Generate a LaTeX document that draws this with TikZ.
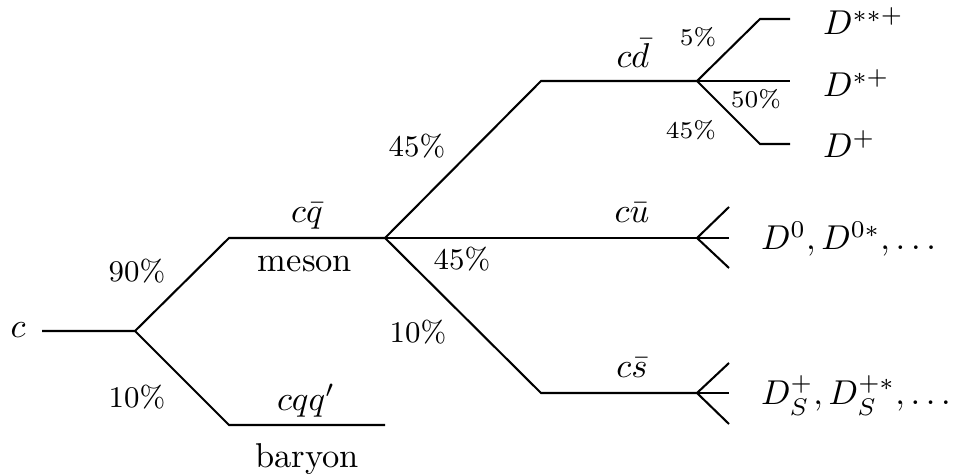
\documentclass[tikz,border=0pt]{standalone}
\begin{document}
\begin{tikzpicture}[x=0.29pt,y=-0.29pt,line width=0.6pt,
  lbl/.style={inner sep=0pt,anchor=base,font=\fontsize{10}{12}\selectfont},
  lblw/.style={inner sep=0pt,anchor=base west,font=\fontsize{10}{12}\selectfont},
  pct/.style={inner sep=0pt,anchor=base,font=\fontsize{8.7}{10}\selectfont},
  spct/.style={inner sep=0pt,anchor=base,font=\fontsize{7}{8.5}\selectfont}]
\useasboundingbox (0,0) rectangle (953,475);
% branch points
\coordinate (c0) at (42,331);
\coordinate (b1) at (135,331);
\coordinate (m1) at (229,238);
\coordinate (m2) at (385,238);
\coordinate (y1) at (229,425);
\coordinate (y2) at (385,425);
\coordinate (d1) at (541,81);
\coordinate (d2) at (697,81);
\coordinate (u2) at (697,238);
\coordinate (s1) at (541,393);
\coordinate (s2) at (697,393);
\coordinate (t1) at (760,19);
\coordinate (t2) at (790,19);
\coordinate (tm) at (790,81);
\coordinate (tb1) at (760,144);
\coordinate (tb2) at (790,144);
\coordinate (ua) at (729,207);
\coordinate (um) at (729,238);
\coordinate (ub) at (729,268);
\coordinate (sa) at (729,363);
\coordinate (sm) at (729,393);
\coordinate (sb) at (729,424);
% lines
\draw (c0) -- (b1) -- (m1) -- (m2);
\draw (b1) -- (y1) -- (y2);
\draw (m2) -- (d1) -- (d2);
\draw (m2) -- (u2);
\draw (m2) -- (s1) -- (s2);
\draw (d2) -- (t1) -- (t2);
\draw (d2) -- (tm);
\draw (d2) -- (tb1) -- (tb2);
\draw (ua) -- (u2) -- (ub);
\draw (u2) -- (um);
\draw (sa) -- (s2) -- (sb);
\draw (s2) -- (sm);
% labels
\node[lbl] (lc) at (18,338) {$c$};
\node[lbl] (lcq) at (307,223) {$c\bar q$};
\node[lbl] (lmeson) at (305,272) {meson};
\node[lbl] (lcqq) at (306,410) {$cqq'$};
\node[lbl] (lbaryon) at (307,467) {baryon};
\node[pct] (p90) at (137,282) {90\%};
\node[pct] (p10a) at (137,407) {10\%};
\node[pct] (p45a) at (417,157) {45\%};
\node[pct] (p45b) at (462,270) {45\%};
\node[pct] (p10b) at (418,343) {10\%};
\node[lbl] (lcd) at (633,68) {$c\bar d$};
\node[lbl] (lcu) at (632,223) {$c\bar u$};
\node[lbl] (lcs) at (632,378) {$c\bar s$};
\node[spct] (p5) at (698,46) {5\%};
\node[spct] (p50) at (756,108) {50\%};
\node[spct] (p45c) at (691,139) {45\%};
\node[lblw] (Dss) at (822,35) {$D^{**+}$};
\node[lblw] (Ds) at (822,97) {$D^{*+}$};
\node[lblw] (Dp) at (822,158) {$D^{+}$};
\node[lblw] (D0) at (760,250) {$D^0, D^{0*}, \ldots$};
\node[lblw] (DS) at (760,405) {$D_S^+, D_S^{+*}, \ldots$};
\end{tikzpicture}
\end{document}
